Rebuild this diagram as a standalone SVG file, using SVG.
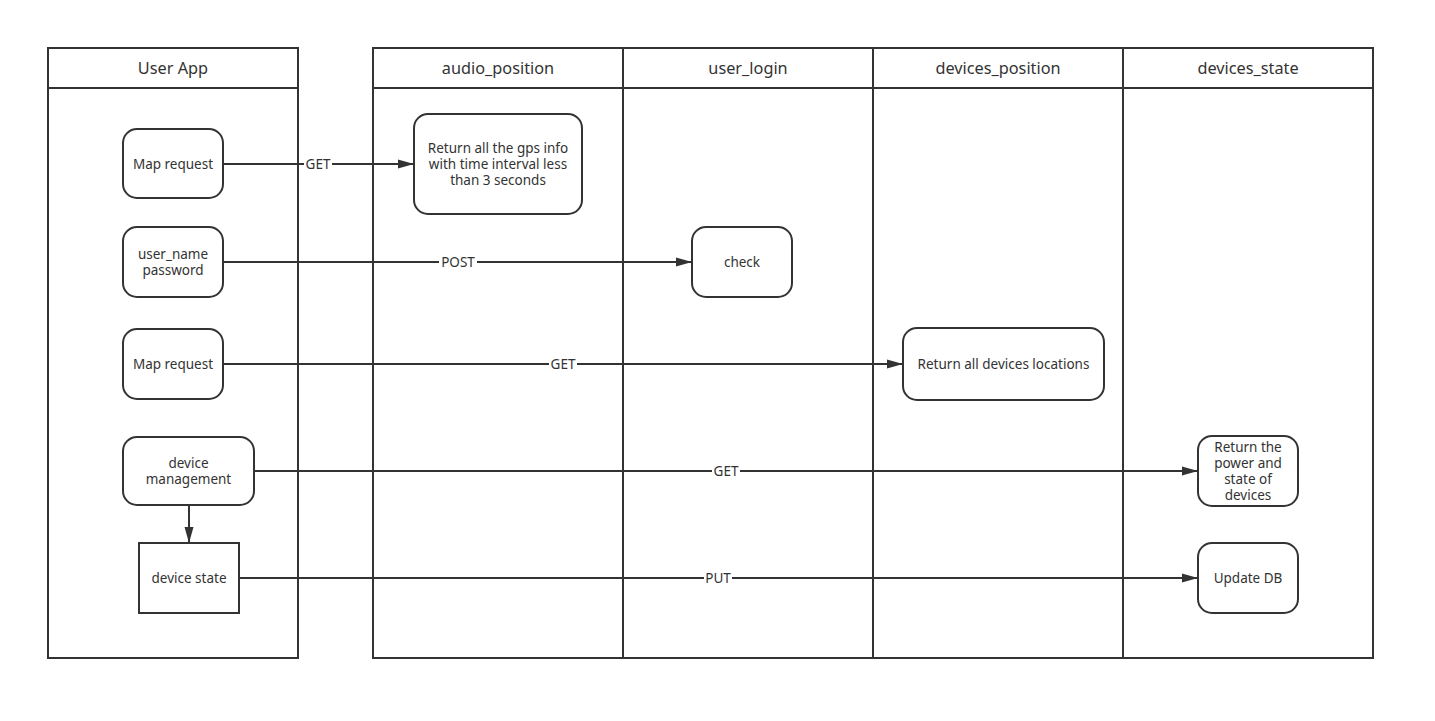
<svg xmlns="http://www.w3.org/2000/svg" width="1435" height="721" viewBox="0 0 1435 721">
<style>
.pool{fill:#fff;stroke:#333;stroke-width:2}
.ln{fill:none;stroke:#333;stroke-width:2}
.node{fill:#fff;stroke:#333;stroke-width:2}
.hd{font-family:"Noto Sans","Open Sans",sans-serif;font-size:16.3px;fill:#333;text-anchor:middle}
.t{font-family:"Noto Sans","Open Sans",sans-serif;font-size:13.5px;fill:#333;text-anchor:middle}
.lbl{font-family:"Noto Sans","Open Sans",sans-serif;font-size:13.5px;fill:#333;text-anchor:middle}
.lblbg{fill:#fff}
</style>
<defs>
<marker id="arrB" viewBox="0 0 16 10" refX="16" refY="5" markerWidth="16" markerHeight="10" markerUnits="userSpaceOnUse" orient="auto">
<path d="M0,0.5 L16,5 L0,9.5 Z" fill="#333"/>
</marker>
</defs>
<rect width="1435" height="721" fill="#fff"/>
<g id="pool-userapp">
<rect class="pool" x="48" y="48" width="250" height="610"/>
<line class="ln" x1="48" y1="88" x2="298" y2="88"/>
<text class="hd" x="173" y="74">User App</text>
</g>
<g id="pool-server">
<rect class="pool" x="373" y="48" width="1000" height="610"/>
<line class="ln" x1="373" y1="88" x2="1373" y2="88"/>
<line class="ln" x1="623" y1="48" x2="623" y2="658"/>
<line class="ln" x1="873" y1="48" x2="873" y2="658"/>
<line class="ln" x1="1123" y1="48" x2="1123" y2="658"/>
<text class="hd" x="498" y="74">audio_position</text>
<text class="hd" x="748" y="74">user_login</text>
<text class="hd" x="998" y="74">devices_position</text>
<text class="hd" x="1248" y="74">devices_state</text>
</g>
<g id="connectors">
<line class="ln" x1="223" y1="164" x2="414" y2="164" marker-end="url(#arrB)"/>
<rect class="lblbg" x="304" y="156" width="28" height="16"/>
<text class="lbl" x="318" y="168.5">GET</text>
<line class="ln" x1="223" y1="262" x2="692" y2="262" marker-end="url(#arrB)"/>
<rect class="lblbg" x="439" y="254" width="38" height="16"/>
<text class="lbl" x="458" y="266.5">POST</text>
<line class="ln" x1="223" y1="364" x2="903" y2="364" marker-end="url(#arrB)"/>
<rect class="lblbg" x="549" y="356" width="28" height="16"/>
<text class="lbl" x="563" y="368.5">GET</text>
<line class="ln" x1="254" y1="471" x2="1198" y2="471" marker-end="url(#arrB)"/>
<rect class="lblbg" x="712" y="463" width="28" height="16"/>
<text class="lbl" x="726" y="475.5">GET</text>
<line class="ln" x1="239" y1="578" x2="1198" y2="578" marker-end="url(#arrB)"/>
<rect class="lblbg" x="704" y="570" width="28" height="16"/>
<text class="lbl" x="718" y="582.5">PUT</text>
<line class="ln" x1="189" y1="505" x2="189" y2="543" marker-end="url(#arrB)"/>
</g>
<g id="map-request-1">
<rect class="node" x="123" y="129" width="100" height="69" rx="14"/>
<text class="t" x="173" y="168.5">Map request</text>
</g>
<g id="return-gps">
<rect class="node" x="414" y="114" width="168" height="100" rx="14"/>
<text class="t" x="498" y="152.5">Return all the gps info</text>
<text class="t" x="498" y="168.5">with time interval less</text>
<text class="t" x="498" y="184.5">than 3 seconds</text>
</g>
<g id="credentials">
<rect class="node" x="123" y="227" width="100" height="70" rx="14"/>
<text class="t" x="173" y="258.5">user_name</text>
<text class="t" x="173" y="274.5">password</text>
</g>
<g id="check">
<rect class="node" x="692" y="227" width="100" height="70" rx="14"/>
<text class="t" x="742" y="266.5">check</text>
</g>
<g id="map-request-2">
<rect class="node" x="123" y="329" width="100" height="70" rx="14"/>
<text class="t" x="173" y="368.5">Map request</text>
</g>
<g id="return-locations">
<rect class="node" x="903" y="328" width="201" height="72" rx="14"/>
<text class="t" x="1003.5" y="368.5">Return all devices locations</text>
</g>
<g id="device-management">
<rect class="node" x="123" y="437" width="131" height="68" rx="14"/>
<text class="t" x="188.5" y="467.5">device</text>
<text class="t" x="188.5" y="483.5">management</text>
</g>
<g id="device-state">
<rect class="node" x="139" y="543" width="100" height="70"/>
<text class="t" x="189" y="582.5">device state</text>
</g>
<g id="return-power">
<rect class="node" x="1198" y="436" width="100" height="70" rx="14"/>
<text class="t" x="1248" y="451.5">Return the</text>
<text class="t" x="1248" y="467.5">power and</text>
<text class="t" x="1248" y="483.5">state of</text>
<text class="t" x="1248" y="499.5">devices</text>
</g>
<g id="update-db">
<rect class="node" x="1198" y="543" width="100" height="70" rx="14"/>
<text class="t" x="1248" y="582.5">Update DB</text>
</g>
</svg>
